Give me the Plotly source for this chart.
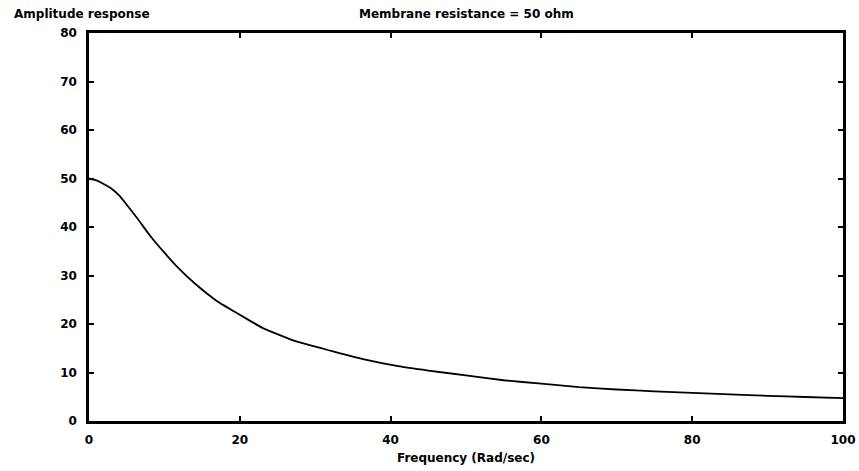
import plotly.graph_objects as go

# Amplitude response of the membrane model (R = 50 ohm)
frequency = [0, 1, 2, 3, 4, 5, 6.5, 8, 10, 12, 14, 17, 20, 23, 27.5, 32, 36.5,
             41, 45, 50, 55, 60, 65, 70, 75, 80, 85, 90, 95, 100]
amplitude = [50, 49.6, 48.8, 47.9, 46.5, 44.6, 41.6, 38.4, 34.7, 31.3, 28.4,
             24.7, 21.9, 19.2, 16.4, 14.5, 12.7, 11.3, 10.4, 9.4, 8.4, 7.7, 7.0,
             6.5, 6.1, 5.8, 5.5, 5.2, 4.95, 4.7]

x_ticks = [0, 20, 40, 60, 80, 100]
y_ticks = [0, 10, 20, 30, 40, 50, 60, 70, 80]

FONT = dict(family="DejaVu Sans", size=12, color="black", weight="bold")

fig = go.Figure()
fig.add_trace(go.Scatter(
    x=frequency, y=amplitude, mode="lines",
    line=dict(color="black", width=1.8, shape="spline", smoothing=0.4),
    hoverinfo="skip", showlegend=False,
))

axis_common = dict(
    showgrid=False, zeroline=False, showline=True, linecolor="black",
    linewidth=2.5, mirror="allticks", ticks="inside", ticklen=5,
    tickwidth=2, tickcolor="black", tickfont=FONT, automargin=False,
)

fig.update_xaxes(range=[0, 100], tickvals=x_ticks,
                 ticktext=[str(v) for v in x_ticks], ticklabelstandoff=6,
                 title=dict(text="Frequency (Rad/sec)", font=FONT, standoff=8),
                 **axis_common)
fig.update_yaxes(range=[0, 80], tickvals=y_ticks,
                 ticktext=[str(v) for v in y_ticks], ticklabelstandoff=7,
                 **axis_common)

fig.add_annotation(text="Amplitude response", xref="paper", yref="paper",
                   x=-0.102, y=1.05, xanchor="left", yanchor="middle",
                   showarrow=False, font=FONT)
fig.add_annotation(text="Membrane resistance = 50 ohm", xref="paper",
                   yref="paper", x=0.5, y=1.05, xanchor="center",
                   yanchor="middle", showarrow=False, font=FONT)

fig.update_layout(
    width=859, height=471,
    margin=dict(l=89, r=16, t=33, b=50),
    paper_bgcolor="white", plot_bgcolor="white",
)

fig.write_html("out.html")
